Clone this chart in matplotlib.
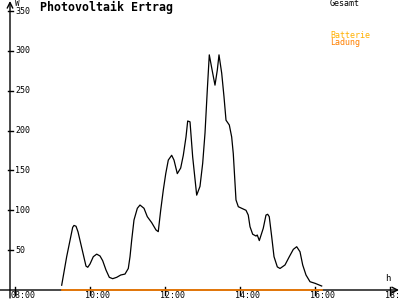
import matplotlib
matplotlib.use('Agg')
import matplotlib.pyplot as plt

# Data (hour of day, watts)
zeit = [9.245, 9.378, 9.538, 9.573, 9.627, 9.68, 9.893, 9.94, 10.0, 10.088,
        10.178, 10.267, 10.338, 10.427, 10.515, 10.605, 10.712, 10.819, 10.933, 11.021,
        11.067, 11.112, 11.173, 11.262, 11.333, 11.44, 11.528, 11.645, 11.76, 11.82,
        11.885, 11.955, 12.02, 12.088, 12.178, 12.24, 12.328, 12.418, 12.488, 12.56,
        12.605, 12.667, 12.738, 12.845, 12.933, 13.005, 13.067, 13.128, 13.181, 13.272,
        13.333, 13.395, 13.44, 13.512, 13.573, 13.627, 13.715, 13.778, 13.821, 13.893,
        13.955, 14.045, 14.16, 14.22, 14.267, 14.338, 14.427, 14.46, 14.515, 14.62,
        14.693, 14.738, 14.78, 14.845, 14.907, 14.995, 15.067, 15.2, 15.315, 15.422,
        15.512, 15.6, 15.672, 15.76, 15.867, 16.0, 16.178]
gesamt = [6, 41.8, 78.6, 81, 80, 73, 30, 28.5, 32.6, 41.8,
          45, 42.7, 36.8, 25, 15.9, 14.2, 15.9, 18.8, 20, 27,
          41.8, 62.7, 87.8, 102.5, 106.6, 102.5, 92, 84.5, 75.3, 73.2,
          100, 125.5, 146, 163, 169, 163, 146, 153, 169, 192,
          212, 211, 167, 119, 130, 159, 197, 251, 295, 272,
          257, 276, 295, 272, 242.5, 213, 207, 192, 171, 113,
          104.5, 102.5, 100, 94, 79.4, 70, 67.7, 69, 62, 77.4,
          94, 95, 92, 67, 41.8, 29, 27, 31.4, 41.8, 51,
          54.3, 48, 31.4, 18.8, 10.4, 8.4, 5]

ladung_zeit = [9.245, 16.178]
ladung = [0, 0]

x_ticks = [8, 10, 12, 14, 16, 18]
x_labels = ['08:00', '10:00', '12:00', '14:00', '16:00', '18:00']
y_ticks = [50, 100, 150, 200, 250, 300, 350]

px_x = 1 / 37.5     # one pixel in hours
px_y = 1 / 0.7971   # one pixel in watts

fig = plt.figure(figsize=(4, 3), dpi=100)
ax = fig.add_axes([0, 0, 1, 1])
ax.set_xlim(7.6, 7.6 + 400 * px_x)
ax.set_ylim(-10 * px_y, 290 * px_y)
ax.axis('off')

mono = 'DejaVu Sans Mono'
y_axis_x = 7.6 + 10 * px_x

# axes with arrows
ax.annotate('', xy=(y_axis_x, 289 * px_y), xytext=(y_axis_x, -8 * px_y),
            arrowprops=dict(arrowstyle='->', lw=1, color='black', shrinkA=0, shrinkB=0))
ax.annotate('', xy=(7.6 + 399 * px_x, 0), xytext=(7.6, 0),
            arrowprops=dict(arrowstyle='->', lw=1, color='black', shrinkA=0, shrinkB=0))

# y ticks
for v in y_ticks:
    ax.plot([y_axis_x - 2 * px_x, y_axis_x + 3 * px_x], [v, v], color='black', lw=1)
    ax.text(8.0, v, str(v), fontsize=6, family=mono, ha='left', va='center')

# x ticks
for t, lab in zip(x_ticks, x_labels):
    ax.plot([t, t], [4, -6.3], color='black', lw=1)
    ax.text(t - 5 * px_x, -7.5, lab, fontsize=6, family=mono, ha='left', va='center',
            clip_on=False)

# series
ax.plot(ladung_zeit, ladung, color='#FF8000', lw=1.2, zorder=5)
ax.plot(zeit, gesamt, color='black', lw=0.9, zorder=6)

# texts
ax.text(8.667, 355, 'Photovoltaik Ertrag', fontsize=8.4, family=mono,
        fontweight='bold', ha='left', va='center')
ax.text(8.0, 359, 'W', fontsize=5.5, family=mono, ha='left', va='center')
ax.text(17.87, 15, 'h', fontsize=6.5, family=mono, ha='left', va='center')
ax.text(16.4, 359, 'Gesamt', fontsize=6, family=mono, ha='left', va='center')
ax.text(16.4, 319.3, 'Batterie', fontsize=6, family=mono, color='#FFB000',
        ha='left', va='center')
ax.text(16.4, 309.9, 'Ladung', fontsize=6, family=mono, color='#FF8000',
        ha='left', va='center')

fig.savefig('out.png', dpi=100)
